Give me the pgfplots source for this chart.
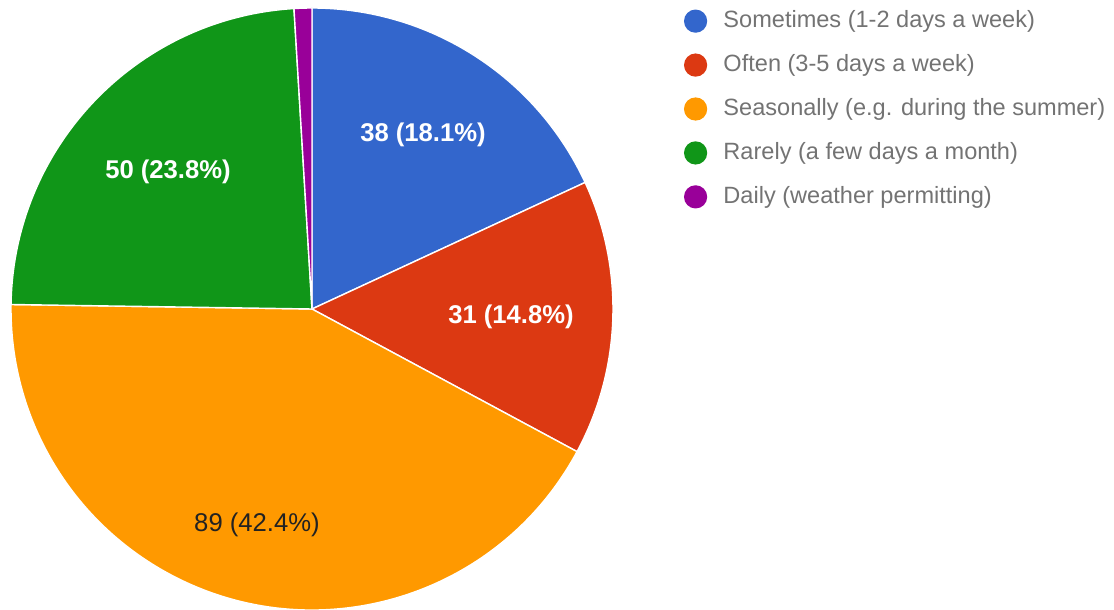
\documentclass[border=0pt]{standalone}
\usepackage{pgfplots}
\usepackage{pgfplotstable}
\pgfplotsset{compat=1.18}
\usepackage{fontspec}
\setmainfont{Liberation Sans}
\definecolor{cBlue}{HTML}{3366CC}
\definecolor{cRed}{HTML}{DC3912}
\definecolor{cOrange}{HTML}{FF9900}
\definecolor{cGreen}{HTML}{109618}
\definecolor{cPurple}{HTML}{990099}
\definecolor{legGray}{HTML}{737373}
\definecolor{darkTxt}{HTML}{222222}

\pgfplotstableread{
idx value col
0 38 cBlue
1 31 cRed
2 89 cOrange
3 50 cGreen
4 2 cPurple
}\piedata

\begin{document}
\begin{tikzpicture}
\begin{axis}[
  hide axis, scale only axis,
  width=11.14cm, height=6.10cm,
  xmin=0, xmax=1114, ymin=0, ymax=610,
  clip=false,
  legend cell align=left,
  legend style={at={(axis cs:684,601)}, anchor=north west, draw=none, fill=none,
    font=\fontsize{6.7}{8}\selectfont, text=legGray, row sep=6pt, column sep=0.17cm,
    inner sep=0pt, nodes={inner sep=0pt, text height=5pt, text depth=1.5pt}},
]
% total
\gdef\pietotal{0}
\pgfplotsinvokeforeach{0,...,4}{%
  \pgfplotstablegetelem{#1}{value}\of\piedata
  \pgfmathsetmacro\tmpt{\pietotal+\pgfplotsretval}%
  \global\let\pietotal\tmpt
}
\gdef\piecum{0}
\pgfplotsinvokeforeach{0,...,4}{%
  \pgfplotstablegetelem{#1}{value}\of\piedata
  \pgfmathsetmacro\aS{90-\piecum/\pietotal*360}%
  \pgfmathsetmacro\tmpc{\piecum+\pgfplotsretval}%
  \global\let\piecum\tmpc
  \pgfmathsetmacro\aE{90-\piecum/\pietotal*360}%
  \pgfplotstablegetelem{#1}{col}\of\piedata
  \edef\temp{\noexpand\filldraw[fill=\pgfplotsretval, draw=white, line width=0.4pt]
    (axis cs:312,301) -- ++(\aS:3.01cm) arc[start angle=\aS, end angle=\aE, radius=3.01cm] -- cycle;}%
  \temp
}
\node[font=\fontsize{7.3}{8}\selectfont\bfseries, text=white] at (axis cs:423,475) {38 (18.1\%)};
\node[font=\fontsize{7.3}{8}\selectfont\bfseries, text=white] at (axis cs:511,293) {31 (14.8\%)};
\node[font=\fontsize{7.3}{8}\selectfont, text=darkTxt] at (axis cs:257,85) {89 (42.4\%)};
\node[font=\fontsize{7.3}{8}\selectfont\bfseries, text=white] at (axis cs:168,438) {50 (23.8\%)};

\addlegendimage{only marks, mark=*, mark size=3.1pt, color=cBlue}
\addlegendentry{Sometimes (1-2 days a week)}
\addlegendimage{only marks, mark=*, mark size=3.1pt, color=cRed}
\addlegendentry{Often (3-5 days a week)}
\addlegendimage{only marks, mark=*, mark size=3.1pt, color=cOrange}
\addlegendentry{Seasonally (e.g. during the summer)}
\addlegendimage{only marks, mark=*, mark size=3.1pt, color=cGreen}
\addlegendentry{Rarely (a few days a month)}
\addlegendimage{only marks, mark=*, mark size=3.1pt, color=cPurple}
\addlegendentry{Daily (weather permitting)}
\end{axis}
\pgfresetboundingbox
\path (current axis.south west) rectangle (current axis.north east);
\end{tikzpicture}
\end{document}
